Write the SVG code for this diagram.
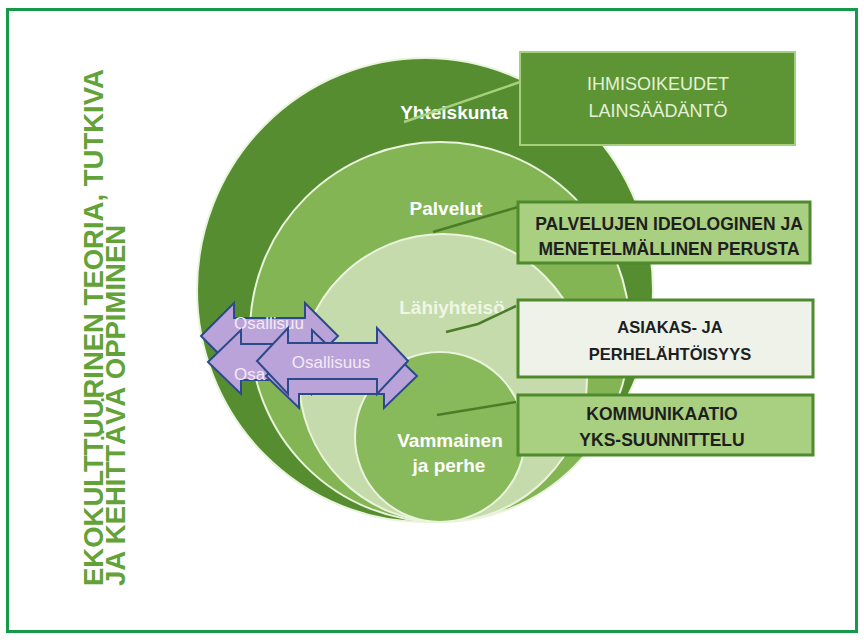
<svg xmlns="http://www.w3.org/2000/svg" width="864" height="640" viewBox="0 0 864 640">
<style>
.ring{stroke:#eaf4dc;stroke-width:2}
.lbl{font-family:"Liberation Sans",Arial,sans-serif;font-weight:bold;font-size:19px;fill:#ffffff;text-anchor:middle}
.box{stroke:#4f8a2c;stroke-width:3}
.btxt{font-family:"Liberation Sans",Arial,sans-serif;font-weight:bold;font-size:17px;fill:#1e1e1e;text-anchor:middle}
.arrow{fill:#b9a3d8;stroke:#2b4a8b;stroke-width:2;stroke-linejoin:miter}
.atxt{font-family:"Liberation Sans",Arial,sans-serif;font-size:17px;fill:#f6e9f6;text-anchor:middle}
.vtxt{font-family:"Liberation Sans",Arial,sans-serif;font-weight:bold;font-size:27.5px;fill:#62a236}
.lead{stroke:#4a7d28;stroke-width:2.5;fill:none}
</style>
<rect x="7.5" y="9.5" width="849" height="622" fill="#ffffff" stroke="#17994a" stroke-width="3"/>

<g id="title">
<text class="vtxt" transform="translate(103,586) rotate(-90)">EKOKULTTUURINEN TEORIA, TUTKIVA</text>
<text class="vtxt" transform="translate(125,586) rotate(-90)">JA KEHITTÄVÄ OPPIMINEN</text>
</g>

<g id="yhteiskunta">
<ellipse class="ring" cx="425" cy="290" rx="228" ry="232" fill="#558d30"/>
<text class="lbl" x="454" y="119">Yhteiskunta</text>
</g>
<g id="palvelut">
<circle class="ring" cx="440" cy="332" r="190" fill="#84b554"/>
<text class="lbl" x="446" y="215">Palvelut</text>
</g>
<g id="lahiyhteiso">
<circle class="ring" cx="443" cy="378" r="144" fill="#c6dbab"/>
<text class="lbl" x="452" y="314" style="fill:#eef6e4">Lähiyhteisö</text>
</g>
<g id="vammainen">
<circle class="ring" cx="440" cy="437" r="85" fill="#88b95a"/>
<text class="lbl" x="450" y="447">Vammainen</text>
<text class="lbl" x="449" y="472">ja perhe</text>
</g>

<g id="connectors">
<line x1="520" y1="82" x2="404" y2="122" stroke="#a6d17c" stroke-width="2.5"/>
<line class="lead" x1="518" y1="207" x2="433" y2="232"/>
<polyline class="lead" points="516,306 478,324 446,332"/>
<line class="lead" x1="516" y1="402" x2="437" y2="415"/>
</g>

<g id="box-ihmisoikeudet">
<rect x="520" y="52" width="275" height="93" fill="#5d9535" stroke="#a6d17c" stroke-width="2"/>
<text x="658" y="90" font-family="'Liberation Sans',Arial,sans-serif" font-size="18" fill="#e6f0d8" text-anchor="middle">IHMISOIKEUDET</text>
<text x="658" y="117" font-family="'Liberation Sans',Arial,sans-serif" font-size="18" fill="#e6f0d8" text-anchor="middle">LAINSÄÄDÄNTÖ</text>
</g>
<g id="box-palvelujen">
<rect class="box" x="518" y="202" width="292" height="61" fill="#a9cf80"/>
<text class="btxt" x="669" y="230" style="font-size:17.5px">PALVELUJEN IDEOLOGINEN JA</text>
<text class="btxt" x="669" y="255" style="font-size:17.5px">MENETELMÄLLINEN PERUSTA</text>
</g>
<g id="box-asiakas">
<rect class="box" x="518" y="300" width="295" height="77" fill="#eef2e8"/>
<text class="btxt" x="670" y="333" style="font-size:16.5px">ASIAKAS- JA</text>
<text class="btxt" x="670" y="360" style="font-size:16.5px">PERHELÄHTÖISYYS</text>
</g>
<g id="box-kommunikaatio">
<rect class="box" x="518" y="395" width="295" height="60" fill="#a9cf80"/>
<text class="btxt" x="662" y="420" style="font-size:17.5px">KOMMUNIKAATIO</text>
<text class="btxt" x="662" y="446" style="font-size:17.5px">YKS-SUUNNITTELU</text>
</g>

<g id="osallisuus-arrows">
<g id="arrow-a">
<path class="arrow" d="M201,336 L234,303 L234,318 L305,318 L305,303 L338,336 L305,369 L305,354 L234,354 L234,369 Z"/>
<text class="atxt" x="269" y="329">Osallisuu</text>
</g>
<g id="arrow-b">
<path class="arrow" d="M208,362 L241,330 L241,344 L312,344 L312,330 L345,362 L312,394 L312,380 L241,380 L241,394 Z"/>
<text class="atxt" x="234" y="380" style="text-anchor:start">Osa</text>
</g>
<g id="arrow-d">
<path class="arrow" d="M266,376 L299,344 L299,358 L384,358 L384,344 L417,376 L384,408 L384,394 L299,394 L299,408 Z"/>
</g>
<g id="arrow-c">
<path class="arrow" d="M257,361 L288,328 L288,343 L377,343 L377,328 L408,361 L377,394 L377,379 L288,379 L288,394 Z"/>
<text class="atxt" x="331" y="368">Osallisuus</text>
</g>
</g>
</svg>
